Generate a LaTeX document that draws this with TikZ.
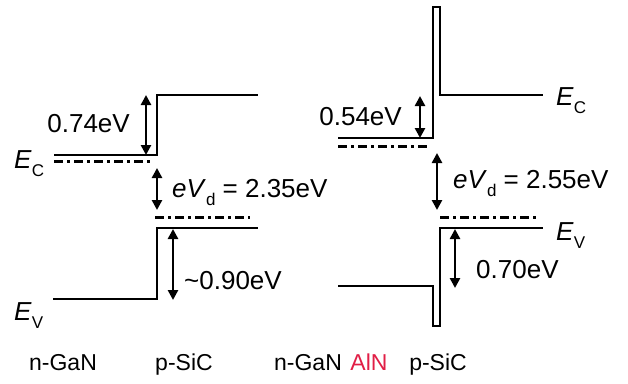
\documentclass[tikz,border=0pt]{standalone}
\usepackage{fontspec}
\setmainfont{Liberation Sans}
\usetikzlibrary{arrows.meta}
\definecolor{alnred}{RGB}{225,30,70}
\newcommand{\lowsub}[1]{\raisebox{-8pt}{\fontsize{17}{17}\selectfont #1}}

\begin{document}
\begin{tikzpicture}[x=1pt, y=-1pt,
    band/.style={line width=2.7pt, line join=miter},
    fermi/.style={line width=3pt, dash pattern=on 9pt off 4pt on 3pt off 4pt},
    gaparr/.style={{Triangle[length=10pt,width=10pt]}-{Triangle[length=10pt,width=10pt]}, line width=2.8pt},
    lbl/.style={inner sep=0pt, font=\fontsize{26}{30}\selectfont},
    mat/.style={inner sep=0pt, anchor=base, font=\fontsize{23}{28}\selectfont}
]
\useasboundingbox (0,0) rectangle (628,383);

% n-GaN / p-SiC
\draw[band] (54,155) -- (157,155) -- (157,95) -- (258,95);
\draw[band] (53,299) -- (157,299) -- (157,228) -- (258,228);
\draw[fermi] (54,161) -- (152,161);
\draw[fermi] (155,217) -- (250,217);

\coordinate (cbtopL) at (146,95);
\coordinate (cbbotL) at (146,155);
\coordinate (vdtopL) at (157,168);
\coordinate (vdbotL) at (157,210);
\coordinate (vbtopL) at (173,229);
\coordinate (vbbotL) at (173,300);
\draw[gaparr] (cbtopL) -- (cbbotL);
\draw[gaparr] (vdtopL) -- (vdbotL);
\draw[gaparr] (vbtopL) -- (vbbotL);

\node[lbl, anchor=base east] (dcL) at (130,132) {0.74eV};
\node[lbl, anchor=base west] (vdL) at (172,197) {\textit{eV}\lowsub{d} = 2.35eV};
\node[lbl, anchor=base west] (dvL) at (184,289) {\textasciitilde0.90eV};
\node[lbl, anchor=base west] (ecL) at (14,168) {\textit{E}\lowsub{C}};
\node[lbl, anchor=base west] (evL) at (14,320) {\textit{E}\lowsub{V}};

% n-GaN / AlN / p-SiC
\draw[band] (338,138) -- (433,138) -- (433,7) -- (440,7) -- (440,95) -- (543,95);
\draw[band] (338,286) -- (433,286) -- (433,326) -- (440,326) -- (440,228) -- (543,228);
\draw[fermi] (338,146) -- (430,146);
\draw[fermi] (440,217) -- (537,217);

\coordinate (cbtopR) at (420,96);
\coordinate (cbbotR) at (420,138);
\coordinate (vdtopR) at (437,153);
\coordinate (vdbotR) at (437,210);
\coordinate (vbtopR) at (455,229);
\coordinate (vbbotR) at (455,288);
\draw[gaparr] (cbtopR) -- (cbbotR);
\draw[gaparr] (vdtopR) -- (vdbotR);
\draw[gaparr] (vbtopR) -- (vbbotR);

\node[lbl, anchor=base east] (dcR) at (402,125) {0.54eV};
\node[lbl, anchor=base west] (vdR) at (453,188) {\textit{eV}\lowsub{d} = 2.55eV};
\node[lbl, anchor=base west] (dvR) at (476,278) {0.70eV};
\node[lbl, anchor=base west] (ecR) at (556,105) {\textit{E}\lowsub{C}};
\node[lbl, anchor=base west] (evR) at (556,240) {\textit{E}\lowsub{V}};

% materials
\node[mat] (ngan1) at (63,370) {n-GaN};
\node[mat] (psic1) at (184,370) {p-SiC};
\node[mat] (ngan2) at (308,370) {n-GaN};
\node[mat, text=alnred] (aln) at (369,370) {AlN};
\node[mat] (psic2) at (438,370) {p-SiC};
\end{tikzpicture}
\end{document}
